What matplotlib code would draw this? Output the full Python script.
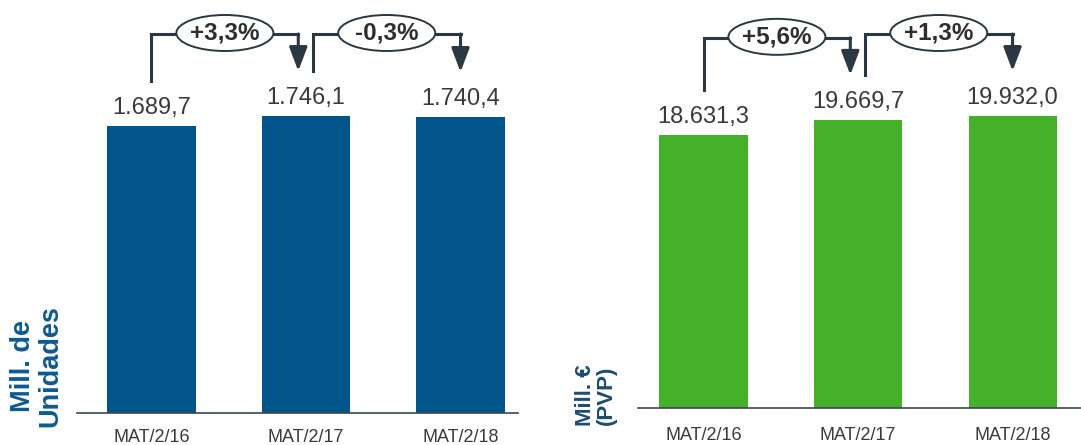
#!/usr/bin/env python3

import numpy as np
import matplotlib
matplotlib.use('Agg')
from matplotlib import pyplot as plt
from matplotlib.patches import Ellipse

plt.rcParams['font.family'] = ['Liberation Sans', 'DejaVu Sans']

periods = ['MAT/2/16', 'MAT/2/17', 'MAT/2/18']
units = [1689.7, 1746.1, 1740.4]
units_labels = ['1.689,7', '1.746,1', '1.740,4']
units_growth = ['+3,3%', '-0,3%']
sales = [18631.3, 19669.7, 19932.0]
sales_labels = ['18.631,3', '19.669,7', '19.932,0']
sales_growth = ['+5,6%', '+1,3%']

W, H = 1081, 445
DARK = '#2b3741'
TXT = '#3a3a3a'
BARW = 0.57


def px2y(ax, px):
    # pixel height -> data units on y
    lo, hi = ax.get_ylim()
    return px * (hi - lo) / (ax.get_position().height * H)


def bracket(ax, i, j, vals, label):
    x0 = i + (0.045 if i > 0 else 0.0)
    x1 = j - (0.05 if j < 2 else 0.0)
    ya = vals[i] + px2y(ax, 45)
    yb = vals[j] + px2y(ax, 45)
    yt = max(vals[i], vals[j]) + px2y(ax, 82)
    ax.plot([x0, x0, x1], [ya, yt, yt], color=DARK, lw=2.2,
            solid_joinstyle='miter', solid_capstyle='projecting', clip_on=False)
    ax.annotate('', xy=(x1, yb), xytext=(x1, yt),
                arrowprops=dict(arrowstyle='-|>,head_length=1.45,head_width=0.55',
                                color=DARK, lw=2.2, shrinkA=0, shrinkB=0),
                annotation_clip=False)
    xc = (x0 + x1) / 2
    yc = yt + px2y(ax, 1)
    ax.add_patch(Ellipse((xc, yc), 97 / 154.5, px2y(ax, 36), facecolor='white',
                         edgecolor=DARK, lw=1.4, zorder=5, clip_on=False))
    ax.text(xc, yc, label, ha='center', va='center', fontsize=17.5,
            fontweight='bold', color='#2e2e2e', zorder=6)


def panel(rect, xlim, ylim, vals, labels, growth, color):
    ax = fig.add_axes(rect)
    x = np.arange(len(vals))
    ax.bar(x, vals, width=BARW, color=color, zorder=2)
    ax.set_xlim(*xlim)
    ax.set_ylim(*ylim)
    for s in ['top', 'right', 'left']:
        ax.spines[s].set_visible(False)
    ax.spines['bottom'].set_color('#3c4650')
    ax.spines['bottom'].set_linewidth(1.2)
    ax.set_yticks([])
    ax.set_xticks(x)
    ax.set_xticklabels(periods, fontsize=13, color=TXT)
    ax.tick_params(axis='x', length=0, pad=tick_pad)
    ax.patch.set_alpha(0)
    for xi, v, t in zip(x, vals, labels):
        ax.annotate(t, (xi, v), xytext=(0, 8.6), textcoords='offset points',
                    ha='center', va='baseline', fontsize=17, color=TXT)
    for k, g in enumerate(growth):
        bracket(ax, k, k + 1, vals, g)
    return ax


fig = plt.figure(figsize=(W / 100, H / 100), dpi=100)

# left: units
tick_pad = 11.5
panel([77 / W, (H - 413) / H, (518 - 77) / W, 413 / H],
      (-0.482, 2.372), (0, 1746.1 * 413 / 297),
      units, units_labels, units_growth, '#02558a')
fig.text(37 / W, 1 - 366 / H, 'Mill. de\nUnidades', rotation=90,
         ha='center', va='center', multialignment='center', fontsize=19.5,
         fontweight='bold', color='#0d5a90', linespacing=1.05)

# right: value
tick_pad = 13.5
panel([638 / W, (H - 408) / H, (1081 - 638) / W, 408 / H],
      (-0.424, 2.443), (0, 19932.0 * 408 / 292),
      sales, sales_labels, sales_growth, '#45b02a')
fig.text(596 / W, 1 - 395 / H, 'Mill. €\n(PVP)', rotation=90,
         ha='center', va='center', multialignment='center', fontsize=16,
         fontweight='bold', color='#1d4b73', linespacing=1.0)

plt.savefig('out.png', dpi=100)
